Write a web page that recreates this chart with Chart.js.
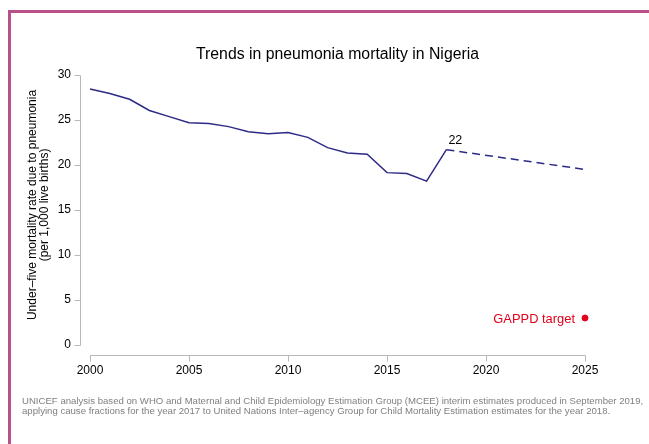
<!DOCTYPE html>
<html>
<head>
<meta charset="utf-8">
<script src="https://cdn.jsdelivr.net/npm/chart.js@4.4.1/dist/chart.umd.min.js"></script>
<style>
  html, body { margin: 0; padding: 0; background: #fff; }
  #wrap { position: relative; width: 649px; height: 444px; overflow: hidden; }
  #frame { position: absolute; left: 8px; top: 10px; width: 700px; height: 500px;
           border-top: 3px solid #b9508a; border-left: 3px solid #b9508a; }
  #c { position: absolute; left: 0; top: 0; }
  #note { position: absolute; left: 22px; top: 396px; font: 9.6px "Liberation Sans", Arial, sans-serif;
          color: #808080; line-height: 10.4px; white-space: nowrap; }
</style>
</head>
<body>
<div id="wrap">
  <div id="frame"></div>
  <canvas id="c" width="649" height="444"></canvas>
  <div id="note">UNICEF analysis based on WHO and Maternal and Child Epidemiology Estimation Group (MCEE) interim estimates produced in September 2019,<br>applying cause fractions for the year 2017 to United Nations Inter–agency Group for Child Mortality Estimation estimates for the year 2018.</div>
</div>
<script>
// ---- data ----
const years = [2000,2001,2002,2003,2004,2005,2006,2007,2008,2009,2010,2011,2012,2013,2014,2015,2016,2017,2018];
const rates = [28.45,27.95,27.3,26.05,25.37,24.7,24.6,24.26,23.7,23.48,23.6,23.07,21.93,21.33,21.19,19.15,19.04,18.2,21.7];
const projYears = [2018, 2025];
const projRates = [21.7, 19.5];
const targetYears = [2025];
const targetValues = [3];
const targetLabel = "GAPPD target";
const xTicks = [2000, 2005, 2010, 2015, 2020, 2025];
const yTicks = [0, 5, 10, 15, 20, 25, 30];
const titleText = "Trends in pneumonia mortality in Nigeria";
const yTitleLines = ["Under–five mortality rate due to pneumonia", "(per 1,000 live births)"];

const FONT = '"Liberation Sans", Arial, Helvetica, sans-serif';
const LINE = '#2c2a86';
const RED = '#e2001a';
const AXIS = '#b8b8b8';

const toXY = (xs, ys) => xs.map((x, i) => ({x: x, y: ys[i]}));

const axesPlugin = {
  id: 'rAxes',
  afterDraw(chart) {
    const ctx = chart.ctx;
    const xs = chart.scales.x, ys = chart.scales.y;
    ctx.save();
    ctx.strokeStyle = AXIS;
    ctx.lineWidth = 1;
    // y axis
    const ax = Math.round(xs.left) - 10 + 0.5;
    ctx.beginPath();
    ctx.moveTo(ax, Math.round(ys.getPixelForValue(yTicks[0])) + 0.5);
    ctx.lineTo(ax, Math.round(ys.getPixelForValue(yTicks[yTicks.length - 1])) + 0.5);
    yTicks.forEach(v => {
      const py = Math.round(ys.getPixelForValue(v)) + 0.5;
      ctx.moveTo(ax, py); ctx.lineTo(ax - 6, py);
    });
    ctx.stroke();
    // x axis
    const ay = Math.round(ys.bottom) + 10 + 0.5;
    ctx.beginPath();
    ctx.moveTo(Math.round(xs.getPixelForValue(xTicks[0])) + 0.5, ay);
    ctx.lineTo(Math.round(xs.getPixelForValue(xTicks[xTicks.length - 1])) + 0.5, ay);
    xTicks.forEach(v => {
      const px = Math.round(xs.getPixelForValue(v)) + 0.5;
      ctx.moveTo(px, ay); ctx.lineTo(px, ay + 6);
    });
    ctx.stroke();

    // y title
    ctx.fillStyle = '#000';
    ctx.font = '12px ' + FONT;
    ctx.textAlign = 'center';
    ctx.textBaseline = 'middle';
    ctx.translate(33, (ys.top + ys.bottom) / 2 - 5);
    ctx.rotate(-Math.PI / 2);
    yTitleLines.forEach((t, i) => ctx.fillText(t, 0, i * 12));
    ctx.restore();

    // annotations
    ctx.save();
    ctx.textBaseline = 'middle';
    const last = years.length - 1;
    const lx = xs.getPixelForValue(years[last]);
    const ly = ys.getPixelForValue(rates[last]);
    ctx.font = '12.5px ' + FONT;
    ctx.fillStyle = '#000';
    ctx.textAlign = 'left';
    ctx.fillText(String(Math.round(rates[last])), lx + 2, ly - 9);
    const tx = xs.getPixelForValue(targetYears[0]);
    const ty = ys.getPixelForValue(targetValues[0]);
    ctx.font = '12.9px ' + FONT;
    ctx.fillStyle = RED;
    ctx.textAlign = 'right';
    ctx.fillText(targetLabel, tx - 10, ty + 1);
    ctx.restore();
  }
};

new Chart(document.getElementById('c'), {
  type: 'line',
  data: {
    datasets: [
      { data: toXY(years, rates), borderColor: LINE, borderWidth: 1.5, pointRadius: 0, tension: 0, clip: false },
      { data: toXY(projYears, projRates), borderColor: LINE, borderWidth: 1.5, borderDash: [8, 5], pointRadius: 0, tension: 0, clip: false },
      { type: 'scatter', data: toXY(targetYears, targetValues), backgroundColor: RED, borderColor: RED, pointRadius: 3, showLine: false, clip: false }
    ]
  },
  options: {
    responsive: false,
    animation: false,
    layout: { padding: { left: 0, right: 64, top: 0, bottom: 0 } },
    plugins: {
      legend: { display: false },
      tooltip: { enabled: false },
      title: {
        display: true, text: titleText, color: '#000', fullSize: false,
        font: { family: FONT, size: 15.8, weight: 'normal' },
        padding: { top: 45, bottom: 11 }
      }
    },
    scales: {
      x: {
        type: 'linear', min: xTicks[0], max: xTicks[xTicks.length - 1],
        afterBuildTicks: s => { s.ticks = xTicks.map(v => ({value: v})); },
        afterFit: s => { s.height = 99; },
        grid: { display: false, drawTicks: false },
        border: { display: false },
        ticks: { color: '#000', padding: 18, maxRotation: 0, autoSkip: false,
                 font: { family: FONT, size: 12 }, callback: v => String(v) }
      },
      y: {
        min: yTicks[0], max: yTicks[yTicks.length - 1],
        afterBuildTicks: s => { s.ticks = yTicks.map(v => ({value: v})); },
        afterFit: s => { s.width = 90; },
        grid: { display: false, drawTicks: false },
        border: { display: false },
        ticks: { color: '#000', padding: 19, autoSkip: false,
                 font: { family: FONT, size: 12 }, callback: v => String(v) }
      }
    }
  },
  plugins: [axesPlugin]
});
</script>
</body>
</html>
